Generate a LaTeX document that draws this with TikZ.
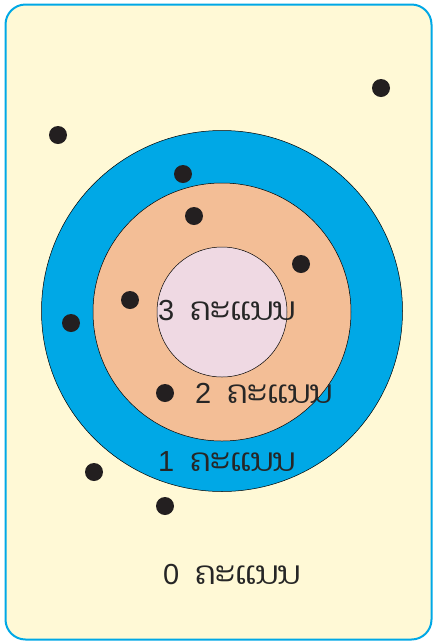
\documentclass[tikz,border=0pt]{standalone}
\usepackage{fontspec}
\setmainfont{Liberation Sans}
\newfontfamily\laofont[Script=Lao]{Dhyana}
\usepackage{tikz}
\usetikzlibrary{positioning}

\definecolor{paper}{RGB}{255,249,214}
\definecolor{ringblue}{RGB}{0,168,230}
\definecolor{ringpeach}{RGB}{243,190,150}
\definecolor{ringpink}{RGB}{239,217,227}
\definecolor{dotink}{RGB}{35,31,32}

\newcommand{\pts}[1]{#1\hspace{16pt}{\laofont\fontsize{32}{34}\selectfont ຄະແນນ}}

\begin{document}
\begin{tikzpicture}[x=1pt,y=-1pt,
  ring/.style={circle,draw=black,line width=0.5pt,inner sep=0pt},
  dot/.style={circle,fill=dotink,inner sep=0pt,minimum size=18pt},
  score/.style={font=\fontsize{29}{32}\selectfont,text=black!85,inner sep=0pt},
]
\useasboundingbox (0,0) rectangle (434,641);
\node[draw=ringblue,line width=2pt,fill=paper,rounded corners=20pt,
      minimum width=426pt,minimum height=635pt,inner sep=0pt] (card) at (218.5,322) {};
% target rings
\node[ring,fill=ringblue,minimum size=361pt] (one) at (222,311) {};
\node[ring,fill=ringpeach,minimum size=258pt] (two) at (222,312) {};
\node[ring,fill=ringpink,minimum size=130pt] (three) at (222,312) {};
% labels
\node[score] (s3) at (227,311) {\pts{3}};
\node[score] (s2) at (264,393) {\pts{2}};
\node[score] (s1) at (227,462) {\pts{1}};
\node[score] (s0) at (232,575) {\pts{0}};
% hits
\foreach \i/\px/\py in {1/381/88,2/58/135,3/183/174,4/194/216,5/301/264,
                        6/130/300,7/71/323,8/165/393,9/94/472,10/165/506}
  \node[dot] (hit\i) at (\px,\py) {};
\end{tikzpicture}
\end{document}
